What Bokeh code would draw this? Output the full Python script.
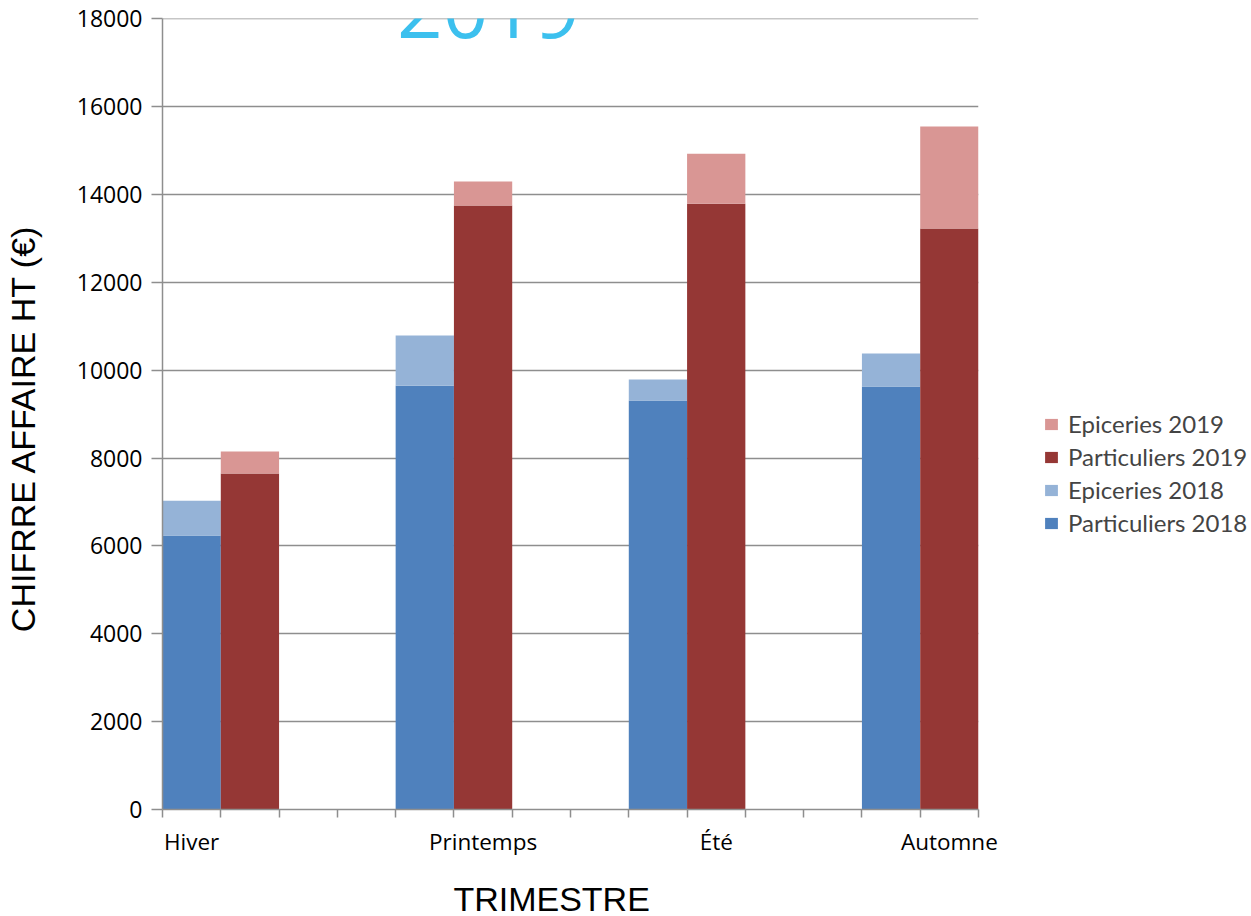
from bokeh.plotting import figure
from bokeh.models import (FixedTicker, Legend, LegendItem, Label, Range1d, ColumnDataSource)
from bokeh.embed import file_html
from bokeh.resources import INLINE

seasons = ["Hiver", "Printemps", "Été", "Automne"]
particuliers_2018 = [6240, 9650, 9310, 9630]
epiceries_2018 = [790, 1140, 480, 750]
particuliers_2019 = [7650, 13750, 13790, 13230]
epiceries_2019 = [500, 550, 1140, 2320]
y_ticks = list(range(0, 18001, 2000))

C_P18 = "#4f81bd"
C_E18 = "#95b3d7"
C_P19 = "#953735"
C_E19 = "#d99694"
GRID = "#8e8e8e"
NB = "\u00a0"

n = len(seasons)
idx = list(range(n))
bw = 0.25
src = ColumnDataSource(dict(
    x18=[i + bw / 2 for i in idx],
    x19=[i + 1.5 * bw for i in idx],
    p18=particuliers_2018,
    e18=epiceries_2018,
    p19=particuliers_2019,
    e19=epiceries_2019,
))

p = figure(frame_width=816, frame_height=791, output_backend="svg", toolbar_location=None,
           x_range=Range1d(0, n - 0.5), y_range=Range1d(0, 18010),
           min_border_left=161, min_border_right=0, min_border_top=18, min_border_bottom=100)
p.outline_line_color = None
p.background_fill_color = "white"

r18 = p.vbar_stack(["p18", "e18"], x="x18", width=bw, source=src,
                   color=[C_P18, C_E18], line_color=None)
r19 = p.vbar_stack(["p19", "e19"], x="x19", width=bw, source=src,
                   color=[C_P19, C_E19], line_color=None)

# grid
p.xgrid.grid_line_color = None
p.ygrid.grid_line_color = GRID
p.ygrid.grid_line_width = 1.5
p.ygrid.level = "underlay"

# y axis
p.yaxis.ticker = FixedTicker(ticks=y_ticks)
p.yaxis.axis_line_color = GRID
p.yaxis.axis_line_width = 1.5
p.yaxis.major_tick_line_color = GRID
p.yaxis.major_tick_line_width = 1.5
p.yaxis.major_tick_out = 11
p.yaxis.major_tick_in = 0
p.yaxis.minor_tick_line_color = None
p.yaxis.major_label_standoff = 9
p.yaxis.major_label_text_font = "Open Sans"
p.yaxis.major_label_text_font_size = "23px"
p.yaxis.major_label_text_color = "black"
p.yaxis.axis_label = "CHIFRRE AFFAIRE HT (€)" + NB * 3
p.yaxis.axis_label_text_font = "Liberation Sans"
p.yaxis.axis_label_text_font_style = "normal"
p.yaxis.axis_label_text_font_size = "34px"
p.yaxis.axis_label_text_color = "black"
p.yaxis.axis_label_standoff = 32

# x axis
label_pos = [bw / 2] + [i + 1.5 * bw for i in idx[1:]]
minor = [k * bw for k in range(int((n - 0.5) / bw) + 1)]
p.xaxis.ticker = FixedTicker(ticks=label_pos, minor_ticks=minor)
p.xaxis.major_label_overrides = {lp: s for lp, s in zip(label_pos, seasons)}
p.xaxis.axis_line_color = GRID
p.xaxis.axis_line_width = 1.5
p.xaxis.major_tick_line_color = None
p.xaxis.major_tick_out = 0
p.xaxis.major_tick_in = 0
p.xaxis.minor_tick_line_color = GRID
p.xaxis.minor_tick_line_width = 1.5
p.xaxis.minor_tick_out = 8
p.xaxis.minor_tick_in = 0
p.xaxis.major_label_standoff = 8
p.xaxis.major_label_text_font = "Open Sans"
p.xaxis.major_label_text_font_size = "22.5px"
p.xaxis.major_label_text_color = "black"
p.xaxis.axis_label = "TRIMESTRE" + NB * 4
p.xaxis.axis_label_text_font = "Liberation Sans"
p.xaxis.axis_label_text_font_style = "normal"
p.xaxis.axis_label_text_font_size = "34px"
p.xaxis.axis_label_text_color = "black"
p.xaxis.axis_label_standoff = 20

# title
title = Label(x=1.398, y=18230, text="2019", text_font="Open Sans",
              text_font_size="80px", text_color="#3cc0ee", text_align="center",
              text_baseline="alphabetic")
p.add_layout(title)

# legend
legend = Legend(items=[
    LegendItem(label="Epiceries 2019", renderers=[r19[1]]),
    LegendItem(label="Particuliers 2019", renderers=[r19[0]]),
    LegendItem(label="Epiceries 2018", renderers=[r18[1]]),
    LegendItem(label="Particuliers 2018", renderers=[r18[0]]),
], location=(65, 272), padding=0, margin=0, spacing=4,
    glyph_width=16, glyph_height=14, label_standoff=9, label_height=24,
    label_text_font="Lato", label_text_font_size="24px",
    border_line_color=None, background_fill_alpha=0)
p.add_layout(legend, "right")

open("out.html", "w").write(file_html(p, INLINE))
